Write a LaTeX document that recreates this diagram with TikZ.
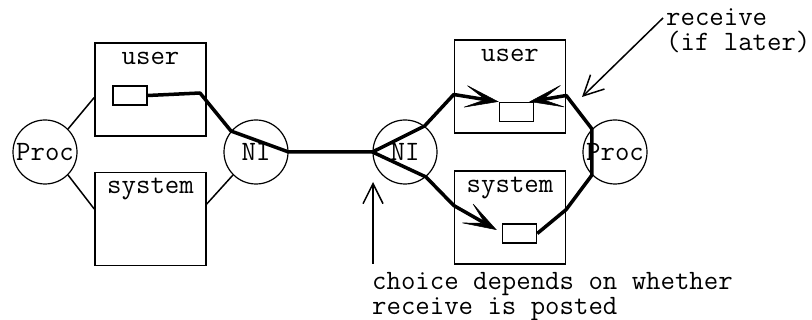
\documentclass[tikz,border=0pt]{standalone}
\usepackage{fontspec}
\usepackage{tikz}
\usetikzlibrary{arrows.meta}

\begin{document}
\begin{tikzpicture}[x=1pt,y=-1pt,
    font=\ttfamily\fontsize{28}{25.5}\selectfont,
    unit/.style={draw,circle,line width=1.2pt,minimum size=64pt,inner sep=0pt},
    space/.style={draw,line width=1.5pt,minimum width=111pt,minimum height=93pt,inner sep=0pt},
    buf/.style={draw,line width=1.5pt,minimum width=34pt,minimum height=19pt,inner sep=0pt},
    tag/.style={anchor=base,inner sep=0pt},
    note/.style={anchor=north west,align=left,inner sep=0pt},
    link/.style={line width=1.5pt},
    msg/.style={line width=3.5pt,line join=round},
    deliver/.style={msg,-{Stealth[length=36pt,width=24pt,inset=22pt,line width=0.5pt]}},
    point/.style={line width=1.5pt,-{Straight Barb[length=20pt,width=20pt]}}]
    \useasboundingbox (0,0) rectangle (812,320);
    % sender
    \node[unit] (procL) at (45,152) {Proc};
    \node[space] (userL) at (150.5,89.5) {};
    \node[space] (sysL) at (150.5,219) {};
    \node[unit] (niL) at (256,152) {NI};
    \node[tag] at ([yshift=-22pt]userL.north) {user};
    \node[tag] at ([yshift=-22pt]sysL.north) {system};
    \node[buf] (bufL) at (130,95.5) {};
    % receiver
    \node[unit] (niR) at (405,152) {NI};
    \node[space] (userR) at (510,86.5) {};
    \node[space] (sysR) at (510,217.5) {};
    \node[unit] (procR) at (615,152) {Proc};
    \node[tag] at ([yshift=-22pt]userR.north) {user};
    \node[tag] at ([yshift=-22pt]sysR.north) {system};
    \node[buf] (bufRu) at (516.5,112) {};
    \node[buf] (bufRs) at (519.5,233.5) {};
    \draw[link] (procL.45) -- ([yshift=-8pt]userL.west);
    \draw[link] (procL.-45) -- ([yshift=10pt]sysL.west);
    \draw[link] (niL.225) -- ([yshift=15pt]sysL.east);
    % message path
    \coordinate (bendL) at (200,93);
    \draw[msg] (bufL.east) -- (bendL) -- (niL.140) -- (niL.east) -- (niR.west);
    \draw[deliver] (niR.west) -- (niR.53) -- ([yshift=-8pt]userR.west) -- (bufRu.north west);
    \draw[deliver] (niR.west) -- (niR.-50) -- ([yshift=12pt]sysR.west) -- ([shift={(-5pt,3.5pt)}]bufRs.west);
    \draw[deliver] (bufRs.east) -- ([yshift=8pt]sysR.east) -- (procR.225) -- (procR.135)
        -- ([yshift=-9pt]userR.east) -- ([xshift=-5pt]bufRu.north east);
    % notes
    \node[note] (recv) at (666,8) {receive\\(if later)};
    \coordinate (recvtip) at (582,97);
    \draw[point] ([shift={(-3pt,-10pt)}]recv.north west) -- (recvtip);
    \node[note] (choice) at (372,272) {choice depends on whether\\receive is posted};
    \coordinate (choicefoot) at (373,264);
    \coordinate (choicetip) at (373,182);
    \draw[point] (choicefoot) -- (choicetip);
\end{tikzpicture}
\end{document}
